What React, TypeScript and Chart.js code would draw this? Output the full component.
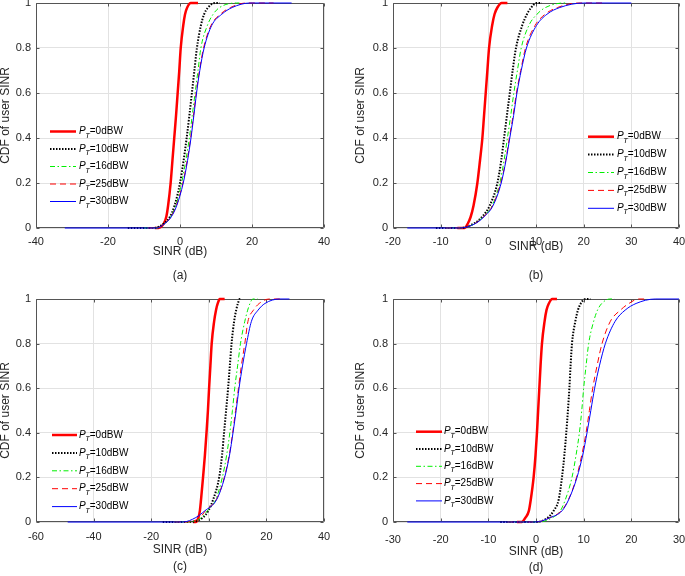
import React, { useEffect, useRef } from 'react';
import { Chart, registerables } from 'chart.js';

Chart.register(...registerables);

const FONT = '"Liberation Sans", Arial, Helvetica, sans-serif';

const cdfLevels = [0, 0, 0.02, 0.05, 0.1, 0.2, 0.3, 0.4, 0.5, 0.6, 0.7, 0.8, 0.9, 0.95, 0.98, 1, 1];
const powerLabels = ['0dBW', '10dBW', '16dBW', '25dBW', '30dBW'];
const yTicks = [0, 0.2, 0.4, 0.6, 0.8, 1];

// Panel (a)
const xTicksA = [-40, -20, 0, 20, 40];
const sinrA_0 = [-7, -6, -4.5, -3.8, -3.3, -2.6, -2.1, -1.6, -1.1, -0.65, -0.2, 0.2, 0.9, 1.4, 2.0, 3.0, 5.0];
const sinrA_10 = [-14.5, -7, -4.5, -2.8, -1.5, 0.0, 1.0, 1.85, 2.6, 3.3, 4.0, 4.7, 5.8, 6.7, 7.8, 9.7, 11];
const sinrA_16 = [-10, -6.5, -4.3, -2.6, -1.2, 0.45, 1.6, 2.6, 3.4, 4.2, 5.0, 5.8, 7.6, 9.2, 11.0, 15.7, 16.5];
const sinrA_25 = [-9, -6.5, -4.3, -2.5, -1.0, 0.8, 2.0, 2.95, 3.75, 4.5, 5.4, 6.55, 8.6, 11.2, 14, 18.5, 26];
const sinrA_30 = [-32, -6.5, -4.2, -2.4, -0.9, 0.9, 2.1, 3.05, 3.85, 4.6, 5.5, 6.7, 8.8, 11.6, 14.5, 19.4, 31];

// Panel (b)
const xTicksB = [-20, -10, 0, 10, 20, 30, 40];
const sinrB_0 = [-6.5, -5, -4.3, -3.7, -3.1, -2.3, -1.75, -1.25, -0.9, -0.55, -0.2, 0.15, 0.8, 1.3, 1.9, 2.8, 4];
const sinrB_10 = [-11, -6, -3, -1.3, 0.3, 1.9, 2.7, 3.3, 3.9, 4.5, 5.1, 5.8, 7.1, 8.1, 9.0, 10.1, 11.2];
const sinrB_16 = [-9, -6, -2.8, -1.1, 0.8, 2.4, 3.3, 4.0, 4.7, 5.35, 6.1, 6.9, 8.5, 10.2, 12.0, 15.8, 16.5];
const sinrB_25 = [-9, -6, -2.8, -1.0, 0.9, 2.6, 3.65, 4.4, 5.2, 5.9, 6.8, 7.8, 9.8, 11.9, 14.5, 19, 24];
const sinrB_30 = [-17, -6, -2.7, -0.9, 1.0, 2.7, 3.7, 4.5, 5.3, 6.0, 6.9, 8.0, 10.1, 12.3, 15, 20, 30];

// Panel (c)
const xTicksC = [-60, -40, -20, 0, 20, 40];
const sinrC_0 = [-5.5, -4.5, -3.6, -3.1, -2.7, -2.0, -1.35, -0.8, -0.3, 0.1, 0.55, 1.0, 1.85, 2.5, 3.1, 3.8, 5.5];
const sinrC_10 = [-16, -8, -2.0, -0.2, 1.5, 3.6, 4.6, 5.3, 6.0, 6.7, 7.3, 7.9, 8.8, 9.5, 10.1, 10.75, 11.3];
const sinrC_16 = [-12, -8, -2.5, -0.5, 2.4, 4.7, 6.2, 7.3, 8.2, 9.0, 10.0, 11.0, 12.5, 13.5, 14.3, 15.3, 17];
const sinrC_25 = [-12, -9, -3, -1.2, 2.6, 5.4, 7.1, 8.3, 9.3, 10.3, 11.3, 12.5, 13.6, 15.5, 17.5, 21, 25];
const sinrC_30 = [-49, -9, -4.5, -1.4, 2.7, 5.5, 7.2, 8.4, 9.5, 10.5, 11.7, 13.1, 14.8, 17.1, 19.5, 24.6, 28];

// Panel (d)
const xTicksD = [-30, -20, -10, 0, 10, 20, 30];
const sinrD_0 = [-4, -3, -2.2, -1.5, -1.1, -0.5, -0.1, 0.2, 0.45, 0.7, 0.95, 1.25, 1.8, 2.2, 2.7, 3.4, 4.4];
const sinrD_10 = [-7.5, 0, 2.5, 3.7, 4.75, 5.45, 5.95, 6.35, 6.7, 7.0, 7.25, 7.55, 8.25, 8.8, 9.4, 10.35, 11.4];
const sinrD_16 = [-6, 0.5, 3.5, 5.1, 6.15, 7.55, 8.4, 9.1, 9.6, 10.0, 10.5, 11.05, 12.1, 12.9, 13.8, 15.5, 16.5];
const sinrD_25 = [-6, 0, 3.0, 5.3, 6.8, 8.5, 9.6, 10.5, 11.2, 11.9, 12.8, 13.85, 15.6, 17.7, 19.5, 21.5, 23];
const sinrD_30 = [-27, 0, 3.0, 5.45, 6.85, 8.6, 9.8, 10.7, 11.5, 12.3, 13.3, 14.55, 16.6, 18.7, 21, 25, 30];

const seriesStyles = [
  { color: '#ff0000', width: 2.5, dash: [] as number[] },
  { color: '#000000', width: 2, dash: [1.5, 1.5] },
  { color: '#00f000', width: 1, dash: [5, 2.5, 1.5, 2.5] },
  { color: '#ff0000', width: 1, dash: [6, 4] },
  { color: '#0000ff', width: 1, dash: [] as number[] },
];

const panels = [
  {
    tag: '(a)', left: 0, top: 0, w: 340, h: 290, padL: 0, yW: 36, padT: 3, padR: 16, xH: 62,
    titleLH: 24, titlePB: 2, tickPad: 7, xTicks: xTicksA,
    series: [sinrA_0, sinrA_10, sinrA_16, sinrA_25, sinrA_30],
    legend: { x0: 50, x1: 76, tx: 79, y0: 131.5, dy: 17.5 },
  },
  {
    tag: '(b)', left: 340, top: 0, w: 345, h: 290, padL: 15, yW: 38, padT: 3, padR: 6, xH: 62,
    titleLH: 29, titlePB: 0, tickPad: 7, xTicks: xTicksB,
    series: [sinrB_0, sinrB_10, sinrB_16, sinrB_25, sinrB_30],
    legend: { x0: 248, x1: 274, tx: 277, y0: 136.7, dy: 17.9 },
  },
  {
    tag: '(c)', left: 0, top: 290, w: 340, h: 286, padL: 0, yW: 36, padT: 9, padR: 16, xH: 54,
    titleLH: 17, titlePB: 1, tickPad: 8.5, xTicks: xTicksC,
    series: [sinrC_0, sinrC_10, sinrC_16, sinrC_25, sinrC_30],
    legend: { x0: 52, x1: 77, tx: 79, y0: 145, dy: 17.9 },
  },
  {
    tag: '(d)', left: 340, top: 290, w: 345, h: 286, padL: 15, yW: 38, padT: 9, padR: 6, xH: 54,
    titleLH: 16, titlePB: 0, tickPad: 11, xTicks: xTicksD,
    series: [sinrD_0, sinrD_10, sinrD_16, sinrD_25, sinrD_30],
    legend: { x0: 76, x1: 102, tx: 104, y0: 141.7, dy: 17.3 },
  },
];

const boxPlugin = {
  id: 'matlabBox',
  beforeDatasetsDraw(chart: any) {
    const { ctx, chartArea: a, scales } = chart;
    ctx.save();
    ctx.strokeStyle = '#555555';
    ctx.lineWidth = 1;
    const L = Math.round(a.left) + 0.5;
    const R = Math.round(a.right) - 0.5;
    const T = Math.round(a.top) + 0.5;
    const B = Math.round(a.bottom) - 0.5;
    ctx.beginPath();
    ctx.rect(L, T, R - L, B - T);
    scales.x.ticks.forEach((t: any) => {
      const px = Math.round(scales.x.getPixelForValue(t.value)) + 0.5;
      ctx.moveTo(px, B); ctx.lineTo(px, B - 3);
      ctx.moveTo(px, T); ctx.lineTo(px, T + 3);
    });
    scales.y.ticks.forEach((t: any) => {
      const py = Math.round(scales.y.getPixelForValue(t.value)) + 0.5;
      ctx.moveTo(L, py); ctx.lineTo(L + 3, py);
      ctx.moveTo(R, py); ctx.lineTo(R - 3, py);
    });
    ctx.stroke();
    ctx.restore();
  },
};

const legendPlugin = {
  id: 'cdfLegend',
  afterDraw(chart: any, _args: any, opts: any) {
    const { ctx } = chart;
    chart.data.datasets.forEach((ds: any, i: number) => {
      const y = opts.y0 + i * opts.dy;
      ctx.save();
      ctx.strokeStyle = ds.borderColor;
      ctx.lineWidth = ds.borderWidth;
      ctx.setLineDash(ds.borderDash || []);
      ctx.beginPath();
      ctx.moveTo(opts.x0, y);
      ctx.lineTo(opts.x1, y);
      ctx.stroke();
      ctx.setLineDash([]);
      ctx.fillStyle = '#000000';
      ctx.textBaseline = 'middle';
      ctx.textAlign = 'left';
      let x = opts.tx;
      ctx.font = `italic 10px ${FONT}`;
      ctx.fillText('P', x, y);
      x += ctx.measureText('P').width;
      ctx.font = `italic 7.5px ${FONT}`;
      ctx.fillText('T', x - 0.5, y + 4);
      x += ctx.measureText('T').width - 0.5;
      ctx.font = `10px ${FONT}`;
      ctx.fillText('=' + powerLabels[i], x, y);
      ctx.restore();
    });
  },
};

function Panel({ cfg }: { cfg: any }) {
  const ref = useRef<HTMLCanvasElement | null>(null);
  useEffect(() => {
    if (!ref.current) return;
    const datasets = cfg.series.map((xs: number[], i: number) => ({
      label: 'PT=' + powerLabels[i],
      data: xs.map((x, k) => ({ x, y: cdfLevels[k] })),
      borderColor: seriesStyles[i].color,
      backgroundColor: seriesStyles[i].color,
      borderWidth: seriesStyles[i].width,
      borderDash: seriesStyles[i].dash,
      pointRadius: 0,
      fill: false,
      clip: 4,
      cubicInterpolationMode: 'monotone',
      order: 4 - i,
    }));
    const chart = new Chart(ref.current, {
      type: 'line',
      data: { datasets },
      options: {
        animation: false,
        responsive: false,
        devicePixelRatio: 1,
        layout: { padding: { left: cfg.padL, top: cfg.padT, right: cfg.padR, bottom: 0 } },
        plugins: {
          legend: { display: false },
          tooltip: { enabled: false },
          cdfLegend: cfg.legend,
        } as any,
        scales: {
          x: {
            type: 'linear',
            min: cfg.xTicks[0],
            max: cfg.xTicks[cfg.xTicks.length - 1],
            afterBuildTicks: (s: any) => { s.ticks = cfg.xTicks.map((v: number) => ({ value: v })); },
            afterFit: (s: any) => { s.height = cfg.xH; s.paddingLeft = 0; s.paddingRight = 0; },
            grid: { color: '#e2e2e2', drawTicks: false, lineWidth: 1 },
            border: { display: false },
            ticks: {
              padding: cfg.tickPad,
              color: '#262626',
              font: { family: FONT, size: 11 },
              maxRotation: 0,
              autoSkip: false,
              callback: (v: any) => String(v),
            },
            title: {
              display: true,
              text: ['SINR (dB)', cfg.tag],
              color: '#262626',
              font: { family: FONT, size: 12, lineHeight: cfg.titleLH + 'px' },
              padding: { top: 0, bottom: cfg.titlePB },
            },
          },
          y: {
            type: 'linear',
            min: 0,
            max: 1,
            afterBuildTicks: (s: any) => { s.ticks = yTicks.map((v) => ({ value: v })); },
            afterFit: (s: any) => { s.width = cfg.yW; s.paddingTop = 0; s.paddingBottom = 0; },
            grid: { color: '#e2e2e2', drawTicks: false, lineWidth: 1 },
            border: { display: false },
            ticks: {
              padding: 5,
              color: '#262626',
              font: { family: FONT, size: 11 },
              autoSkip: false,
              callback: (v: any) => String(Math.round(Number(v) * 10) / 10),
            },
            title: {
              display: true,
              text: 'CDF of user SINR',
              color: '#262626',
              font: { family: FONT, size: 12, lineHeight: 1 },
              padding: { top: 0, bottom: 0 },
            },
          },
        },
      } as any,
      plugins: [boxPlugin, legendPlugin],
    });
    return () => chart.destroy();
  }, [cfg]);
  return (
    <canvas
      ref={ref}
      width={cfg.w}
      height={cfg.h}
      style={{ position: 'absolute', left: cfg.left, top: cfg.top, width: cfg.w, height: cfg.h }}
    />
  );
}

export default function App() {
  return (
    <div style={{ position: 'absolute', left: 0, top: 0, width: 685, height: 576, background: '#ffffff' }}>
      {panels.map((p) => (
        <Panel key={p.tag} cfg={p} />
      ))}
    </div>
  );
}
